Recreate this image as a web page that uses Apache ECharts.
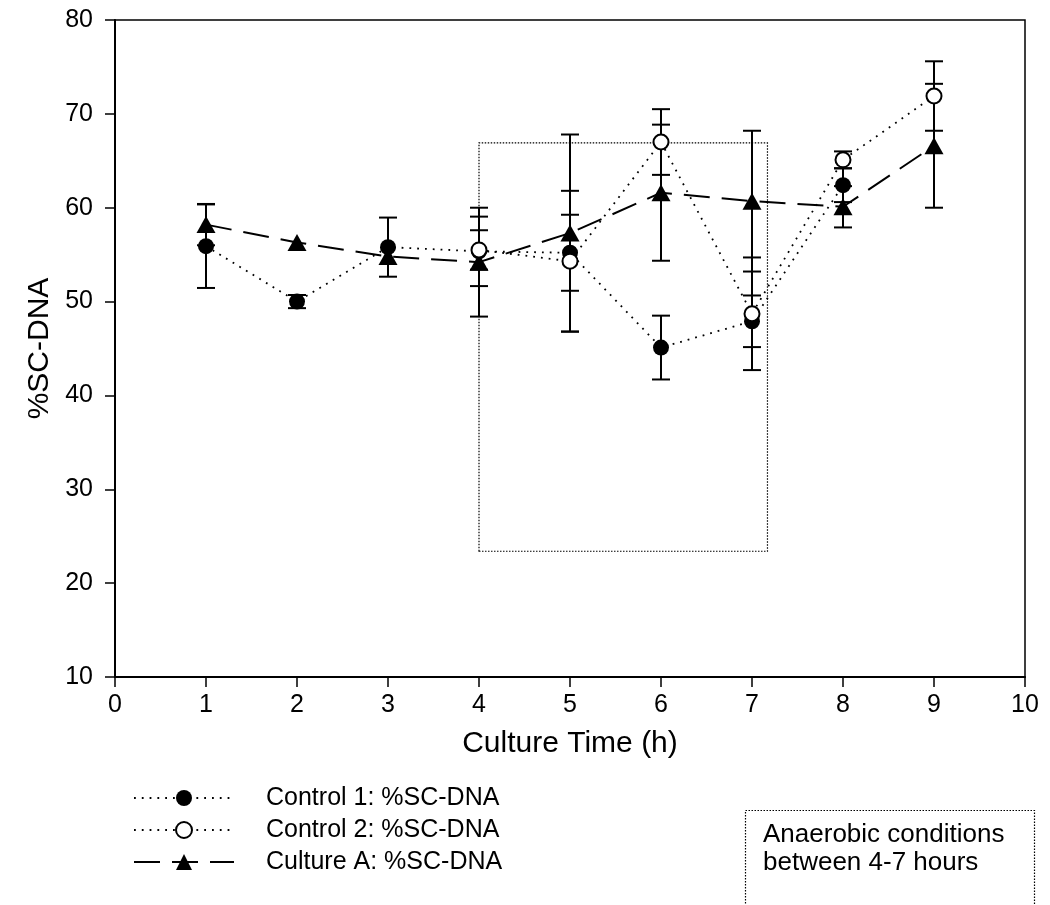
<!DOCTYPE html>
<html><head><meta charset="utf-8">
<script src="https://cdn.jsdelivr.net/npm/echarts@6/dist/echarts.min.js"></script>
<style>html,body{margin:0;padding:0;background:#fff}#chart{width:1050px;height:905px}</style>
</head><body><div id="chart"></div>
<script>
const hours = [1, 2, 3, 4, 5, 6, 7, 8, 9];
const control1 = [55.9, 50.0, 55.8, 55.35, 55.2, 45.1, 47.9, 62.4, null];
const control1Err = [4.45, 0.7, 3.15, 3.7, 4.05, 3.4, 2.75, 1.8, null];
const control2 = [null, null, null, 55.5, 54.3, 67.0, 48.7, 65.1, 71.9];
const control2Err = [null, null, null, 2.1, 7.5, 3.5, 6.0, 0.9, 3.7];
const cultureA = [58.2, 56.3, 54.8, 54.2, 57.3, 61.6, 60.7, 60.1, 66.6];
const cultureAErr = [2.2, null, null, 5.8, 10.5, 7.25, 7.5, 2.2, 6.6];
const xTicks = [0, 1, 2, 3, 4, 5, 6, 7, 8, 9, 10];
const yTicks = [10, 20, 30, 40, 50, 60, 70, 80];
const anaerobicX = [4, 7.17];
const anaerobicY = [23.4, 66.9];
const seriesNames = ['Control 1: %SC-DNA', 'Control 2: %SC-DNA', 'Culture A: %SC-DNA'];
const xTitle = 'Culture Time (h)';
const yTitle = '%SC-DNA';
const noteLines = ['Anaerobic conditions', 'between 4-7 hours'];

const FONT = 'Liberation Sans';

function pts(vals) {
  return hours.map((h, i) => vals[i] == null ? [h, '-'] : [h, vals[i]]);
}
function errs(vals, e) {
  const out = [];
  hours.forEach((h, i) => {
    if (vals[i] != null && e[i] != null) out.push([h, vals[i] - e[i], vals[i] + e[i]]);
  });
  return out;
}
function errRender(params, api) {
  const x = api.value(0), lo = api.value(1), hi = api.value(2);
  const a = api.coord([x, lo]), b = api.coord([x, hi]);
  const hw = 9;
  const style = { stroke: '#000', lineWidth: 2 };
  return {
    type: 'group',
    children: [
      { type: 'line', shape: { x1: a[0], y1: a[1], x2: b[0], y2: b[1] }, style },
      { type: 'line', shape: { x1: a[0] - hw, y1: a[1], x2: a[0] + hw, y2: a[1] }, style },
      { type: 'line', shape: { x1: b[0] - hw, y1: b[1], x2: b[0] + hw, y2: b[1] }, style }
    ]
  };
}
function errSeries(data) {
  return {
    type: 'custom', renderItem: errRender, data: data, silent: true, z: 1,
    dimensions: ['x', 'lo', 'hi'], encode: { x: 0, y: [1, 2] }
  };
}

const chart = echarts.init(document.getElementById('chart'), null, { renderer: 'canvas' });
chart.setOption({
  animation: false,
  backgroundColor: '#fff',
  textStyle: { fontFamily: FONT, color: '#000' },
  grid: { left: 115, right: 25, top: 20, bottom: 228, show: true, borderColor: '#000', borderWidth: 1.5, backgroundColor: 'transparent' },
  xAxis: {
    type: 'value', min: xTicks[0], max: xTicks[xTicks.length - 1], interval: 1,
    splitLine: { show: false },
    axisLine: { show: true, lineStyle: { color: '#000', width: 2 } },
    axisTick: { show: true, length: 10, lineStyle: { color: '#000', width: 1.5 } },
    axisLabel: { color: '#000', fontSize: 25, fontFamily: FONT, margin: 16 },
    name: xTitle, nameLocation: 'middle', nameGap: 52,
    nameTextStyle: { fontSize: 30, fontFamily: FONT, color: '#000' }
  },
  yAxis: {
    type: 'value', min: yTicks[0], max: yTicks[yTicks.length - 1], interval: 10,
    splitLine: { show: false },
    axisLine: { show: true, lineStyle: { color: '#000', width: 2 } },
    axisTick: { show: true, length: 10, lineStyle: { color: '#000', width: 1.5 } },
    axisLabel: { color: '#000', fontSize: 25, fontFamily: FONT, margin: 22 },
    name: yTitle, nameLocation: 'middle', nameGap: 58,
    nameTextStyle: { fontSize: 30, fontFamily: FONT, color: '#000' }
  },
  legend: {
    orient: 'vertical', left: 133, top: 782, padding: 0,
    itemWidth: 100, itemHeight: 20, itemGap: 0,
    data: seriesNames,
    textStyle: { fontSize: 25, fontFamily: FONT, color: '#000', lineHeight: 32, padding: [0, 0, 0, 27] },
    selectedMode: false
  },
  graphic: [
    {
      type: 'rect', left: 743, top: 808, shape: { width: 289, height: 95 },
      style: { fill: 'none', stroke: '#000', lineWidth: 1.2, lineDash: [1.5, 1.5] }
    },
    {
      type: 'text', left: 763, top: 821,
      style: { text: noteLines.join('\n'), font: '26px "Liberation Sans"', fill: '#000', lineHeight: 28 }
    }
  ],
  series: [
    errSeries(errs(cultureA, cultureAErr)),
    errSeries(errs(control1, control1Err)),
    errSeries(errs(control2, control2Err)),
    {
      name: seriesNames[2], type: 'line', data: pts(cultureA), z: 3,
      symbol: 'triangle', symbolSize: [19, 17],
      itemStyle: { color: '#000', borderColor: '#000', borderWidth: 0 },
      lineStyle: { color: '#000', width: 2, type: [26, 12] },
      markArea: {
        silent: true,
        itemStyle: { color: 'rgba(0,0,0,0)', borderColor: '#000', borderWidth: 1.2, borderType: [1.5, 1.5] },
        data: [[{ xAxis: anaerobicX[0], yAxis: anaerobicY[0] }, { xAxis: anaerobicX[1], yAxis: anaerobicY[1] }]]
      }
    },
    {
      name: seriesNames[0], type: 'line', data: pts(control1), z: 4,
      symbol: 'circle', symbolSize: 16,
      itemStyle: { color: '#000', borderColor: '#000', borderWidth: 0 },
      lineStyle: { color: '#000', width: 1.8, type: [1.8, 6] }
    },
    {
      name: seriesNames[1], type: 'line', data: pts(control2), z: 5,
      symbol: 'circle', symbolSize: 15,
      itemStyle: { color: '#fff', borderColor: '#000', borderWidth: 2 },
      lineStyle: { color: '#000', width: 1.8, type: [1.8, 6] }
    }
  ]
});
</script></body></html>
